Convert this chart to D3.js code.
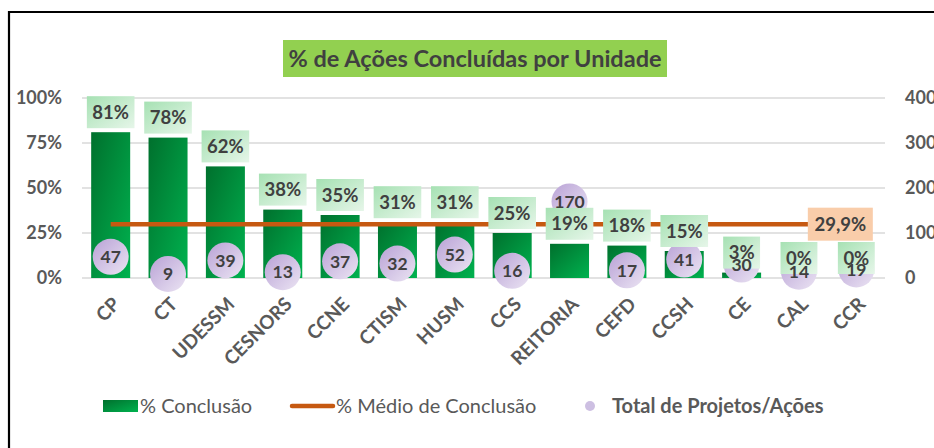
<!DOCTYPE html>
<html>
<head>
<meta charset="utf-8">
<script src="https://cdn.jsdelivr.net/npm/d3@7"></script>
<style>
  html, body { margin: 0; padding: 0; background: #fff; }
  svg { display: block; font-family: Lato, "Open Sans", sans-serif; }
</style>
</head>
<body>
<div id="chart-container"></div>
<script>
// Data
const units = ["CP", "CT", "UDESSM", "CESNORS", "CCNE", "CTISM", "HUSM", "CCS", "REITORIA", "CEFD", "CCSH", "CE", "CAL", "CCR"];
const conclusao = [81, 78, 62, 38, 35, 31, 31, 25, 19, 18, 15, 3, 0, 0];
const totalProjetos = [47, 9, 39, 13, 37, 32, 52, 16, 170, 17, 41, 30, 14, 19];
const mediaConclusao = 29.9;
const leftTicks = [0, 25, 50, 75, 100];
const rightTicks = [0, 100, 200, 300, 400];
const legendLabels = ["% Conclusão", "% Médio de Conclusão", "Total de Projetos/Ações"];

const W = 934, H = 448;
const plot = {left: 82, right: 885, top: 98, bottom: 278};

const svg = d3.select("#chart-container")
  .append("svg")
  .attr("width", W)
  .attr("height", H);

const defs = svg.append("defs");
function grad(id, c1, c2) {
  const g = defs.append("linearGradient").attr("id", id)
    .attr("x1", 0).attr("y1", 0).attr("x2", 1).attr("y2", 1);
  g.append("stop").attr("offset", "0%").attr("stop-color", c1);
  g.append("stop").attr("offset", "100%").attr("stop-color", c2);
}
grad("barGrad", "#00702d", "#00b24f");
grad("labGrad", "#a6e1b3", "#e6f6e9");
grad("bubGrad", "#b9a2d6", "#ebe4f3");

// frame
svg.append("path")
  .attr("d", `M9,${H} L9,12 L${W},12`)
  .attr("fill", "none")
  .attr("stroke", "#000")
  .attr("stroke-width", 2.2);

// Title
const titleG = svg.append("g");
titleG.append("rect")
  .attr("x", 283).attr("y", 40).attr("width", 384).attr("height", 37)
  .attr("fill", "#92d050");
titleG.append("text")
  .attr("x", 475).attr("y", 59).attr("dy", "0.35em")
  .attr("text-anchor", "middle")
  .attr("font-size", 23.5).attr("font-weight", "bold")
  .attr("fill", "#404040")
  .text("% de Ações Concluídas por Unidade");

// Scales
const x = d3.scaleBand()
  .domain(units)
  .range([plot.left, plot.right])
  .paddingInner(0.32)
  .paddingOuter(0.16);

const yL = d3.scaleLinear().domain([0, 100]).range([plot.bottom, plot.top]);
const yR = d3.scaleLinear().domain([0, 400]).range([plot.bottom, plot.top]);

const cx = d => x(d) + x.bandwidth() / 2;

// Gridlines
svg.append("g")
  .selectAll("line")
  .data(leftTicks)
  .join("line")
  .attr("x1", plot.left).attr("x2", plot.right)
  .attr("y1", d => yL(d)).attr("y2", d => yL(d))
  .attr("stroke", "#d9d9d9")
  .attr("stroke-width", 1.5);

// Left axis
const axL = svg.append("g")
  .attr("transform", "translate(62,0)")
  .call(d3.axisLeft(yL).tickValues(leftTicks).tickFormat(d => d + "%").tickSize(0).tickPadding(0));
axL.select(".domain").remove();
axL.selectAll("text")
  .attr("font-family", "Lato, sans-serif")
  .attr("font-size", 18).attr("font-weight", "bold").attr("fill", "#595959");

// Right axis
const axR = svg.append("g")
  .attr("transform", "translate(905,0)")
  .call(d3.axisRight(yR).tickValues(rightTicks).tickSize(0).tickPadding(0));
axR.select(".domain").remove();
axR.selectAll("text")
  .attr("font-family", "Lato, sans-serif")
  .attr("font-size", 18).attr("font-weight", "bold").attr("fill", "#595959");

// Bars
const rows = units.map((u, i) => ({unit: u, pct: conclusao[i], total: totalProjetos[i]}));

svg.append("g")
  .selectAll("rect")
  .data(rows)
  .join("rect")
  .attr("x", d => x(d.unit))
  .attr("width", x.bandwidth())
  .attr("y", d => yL(d.pct))
  .attr("height", d => plot.bottom - yL(d.pct))
  .attr("fill", "url(#barGrad)");

// Average line
const line = d3.line()
  .x(d => cx(d.unit))
  .y(() => yL(mediaConclusao));

svg.append("path")
  .datum(rows)
  .attr("d", line)
  .attr("fill", "none")
  .attr("stroke", "#c65911")
  .attr("stroke-width", 4.5);

// Bubbles
svg.append("g")
  .selectAll("circle")
  .data(rows)
  .join("circle")
  .attr("cx", d => cx(d.unit))
  .attr("cy", d => yR(d.total))
  .attr("r", 18)
  .attr("fill", "url(#bubGrad)");

// Bar labels
const labG = svg.append("g")
  .selectAll("g")
  .data(rows)
  .join("g")
  .attr("transform", d => `translate(${cx(d.unit)},${yL(d.pct) - 4 - 16})`);

labG.append("text")
  .attr("text-anchor", "middle")
  .attr("dy", "0.36em")
  .attr("font-size", 18.5).attr("font-weight", "bold")
  .attr("fill", "#404040")
  .text(d => d.pct + "%")
  .each(function() {
    const w = this.getComputedTextLength() + 11;
    d3.select(this.parentNode).insert("rect", "text")
      .attr("x", -w / 2).attr("y", -16)
      .attr("width", w).attr("height", 32)
      .attr("fill", "url(#labGrad)");
  });

// Bubble labels
svg.append("g")
  .selectAll("text")
  .data(rows)
  .join("text")
  .attr("x", d => cx(d.unit))
  .attr("y", d => yR(d.total))
  .attr("dy", "0.36em")
  .attr("text-anchor", "middle")
  .attr("font-size", 17.5).attr("font-weight", "bold")
  .attr("fill", "#404040")
  .text(d => d.total);

// Average label
const lastUnit = units[units.length - 1];
const avgG = svg.append("g")
  .attr("transform", `translate(${cx(lastUnit) - 16},${yL(mediaConclusao)})`);
avgG.append("rect")
  .attr("x", -32.5).attr("y", -16.5).attr("width", 65).attr("height", 33)
  .attr("fill", "#f9cdaa");
avgG.append("text")
  .attr("text-anchor", "middle")
  .attr("dy", "0.36em")
  .attr("font-size", 18.5).attr("font-weight", "bold")
  .attr("fill", "#404040")
  .text(mediaConclusao.toFixed(1).replace(".", ",") + "%");

// Category labels (rotated)
svg.append("g")
  .selectAll("text")
  .data(units)
  .join("text")
  .attr("transform", d => `translate(${cx(d) + 1},296) rotate(-45)`)
  .attr("text-anchor", "end")
  .attr("dy", "0.7em")
  .attr("font-size", 19).attr("font-weight", "bold")
  .attr("fill", "#595959")
  .text(d => d);

// Legend
const legY = 406;
const leg = svg.append("g").attr("font-size", 20).attr("fill", "#595959");

leg.append("rect")
  .attr("x", 103).attr("y", legY - 6).attr("width", 35).attr("height", 12)
  .attr("fill", "url(#barGrad)");
leg.append("text")
  .attr("x", 140).attr("y", legY).attr("dy", "0.35em")
  .text(legendLabels[0]);

leg.append("line")
  .attr("x1", 292).attr("x2", 333).attr("y1", legY).attr("y2", legY)
  .attr("stroke", "#c65911").attr("stroke-width", 4.5)
  .attr("stroke-linecap", "round");
leg.append("text")
  .attr("x", 336).attr("y", legY).attr("dy", "0.35em")
  .text(legendLabels[1]);

leg.append("circle")
  .attr("cx", 590).attr("cy", legY).attr("r", 5)
  .attr("fill", "#cdbfe2");
leg.append("text")
  .attr("x", 612).attr("y", legY).attr("dy", "0.35em")
  .attr("font-weight", "bold")
  .text(legendLabels[2]);
</script>
</body>
</html>
